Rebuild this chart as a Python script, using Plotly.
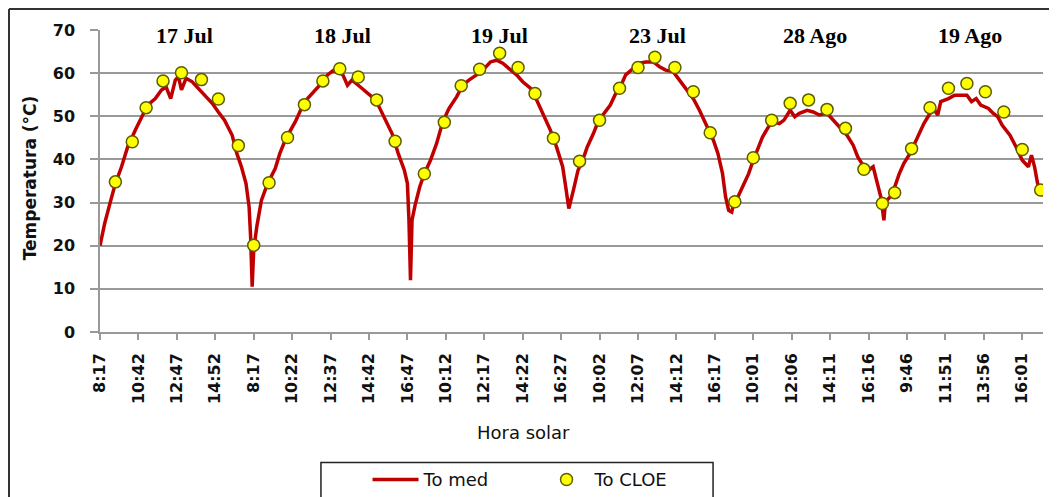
import plotly.graph_objects as go

# ---------------- data ----------------
# sample index (5-minute records, consecutive days joined on one category axis)
tick_labels = ["8:17", "10:42", "12:47", "14:52", "8:17", "10:22", "12:37", "14:42",
               "16:47", "10:12", "12:17", "14:22", "16:27", "10:02", "12:07", "14:12",
               "16:17", "10:01", "12:06", "14:11", "16:16", "9:46", "11:51", "13:56", "16:01"]
tick_step = 25  # labels every 25 records

day_labels = ["17 Jul", "18 Jul", "19 Jul", "23 Jul", "28 Ago", "19 Ago"]
day_label_pos = [55, 158, 260, 363, 465, 566]

# measured temperature (To med)
med_idx = [0, 3, 7, 10, 14, 18, 23, 27, 31, 36, 40, 43, 46, 49, 51, 53, 56, 60, 64, 68,
           73, 77, 81, 86, 89, 92, 95, 97, 98, 99,
           100, 102, 105, 109, 114, 117, 121, 127, 131, 135, 140, 144, 148, 152, 155, 158,
           161, 164, 168, 172, 177, 181, 185, 190, 194, 198, 200, 201, 202,
           203, 205, 208, 211, 215, 219, 223, 227, 232, 236, 240, 245, 249, 254, 258, 262,
           267, 271, 275, 280, 284, 288, 293, 297, 301, 303, 305,
           308, 311, 314, 317, 321, 324, 328, 332, 335, 339, 342, 347, 351, 355, 360, 364,
           368, 373, 377, 381, 386, 390, 394, 399, 402, 405, 407, 409, 411,
           412, 415, 418, 422, 425, 428, 431, 435, 438, 442, 445, 449, 452, 455, 460, 464,
           468, 473, 477, 481, 486, 490, 493, 497, 500, 503, 505, 508, 510,
           511, 514, 517, 520, 523, 527, 530, 533, 536, 540, 543, 545, 547, 552, 556, 560,
           564, 567, 570, 573, 578, 581, 584, 587, 592, 596, 600, 604, 606, 608, 610, 612]
med_val = [20.0, 25.1, 30.5, 34.4, 38.3, 42.9, 46.8, 49.9, 52.6, 54.1, 56.1, 56.8, 54.1, 58.4,
           59.2, 56.1, 58.8, 58.0, 56.5, 54.9, 53.0, 51.0, 49.1, 45.6, 41.4, 38.3, 34.4, 29.0,
           22.0, 10.5,
           19.0, 24.4, 30.5, 34.4, 37.9, 41.4, 44.9, 48.7, 51.8, 54.1, 56.1, 57.6, 59.6, 60.7,
           60.3, 59.6, 57.2, 58.4, 57.2, 56.1, 54.5, 52.6, 49.5, 46.0, 41.4, 37.5, 34.4, 25.9,
           12.0,
           25.9, 29.4, 33.6, 36.7, 39.8, 43.7, 48.7, 51.8, 54.5, 57.2, 58.4, 59.6, 60.7, 62.6,
           63.0, 62.3, 60.7, 59.6, 58.0, 56.5, 53.8, 50.7, 46.8, 42.9, 38.3, 33.6, 28.6,
           32.9, 37.5, 39.8, 42.9, 46.0, 48.7, 50.7, 52.6, 54.9, 57.2, 59.6, 61.1, 62.3, 62.6,
           62.6, 61.5, 60.7, 60.3, 58.4, 56.5, 54.1, 51.4, 48.3, 44.5, 41.4, 36.7, 31.3, 28.2,
           27.8,
           29.4, 31.3, 33.6, 36.7, 39.8, 42.5, 45.2, 47.6, 48.7, 48.3, 49.1, 51.4, 49.9, 50.7,
           51.4, 51.0, 50.3, 50.7, 49.1, 47.6, 45.6, 43.3, 40.6, 38.3, 37.5, 38.3, 35.2, 31.3,
           25.9,
           30.2, 31.3, 33.6, 36.7, 39.1, 41.4, 43.7, 46.0, 48.3, 50.7, 51.4, 50.3, 53.4, 54.1,
           54.9, 54.9, 54.9, 53.4, 54.1, 52.6, 51.8, 50.7, 49.9, 47.9, 45.6, 42.9, 39.8, 38.3,
           41.0, 38.3, 34.4, 32.9]

# model temperature (To CLOE), hourly
cloe_idx = [10, 21, 30, 41, 53, 66, 77, 90, 100,
            110, 122, 133, 145, 156, 168, 180, 192,
            211, 224, 235, 247, 260, 272, 283, 295,
            312, 325, 338, 350, 361, 374, 386, 397, 413,
            425, 437, 449, 461, 473, 485, 497, 509,
            517, 528, 540, 552, 564, 576, 588, 600, 612]
cloe_val = [34.8, 44.1, 52.0, 58.2, 60.1, 58.5, 54.0, 43.2, 20.1,
            34.6, 45.1, 52.7, 58.2, 61.0, 59.1, 53.8, 44.2,
            36.7, 48.6, 57.1, 60.9, 64.6, 61.3, 55.3, 44.9,
            39.6, 49.1, 56.5, 61.3, 63.7, 61.3, 55.7, 46.2, 30.2,
            40.4, 49.1, 53.0, 53.8, 51.6, 47.2, 37.7, 29.8,
            32.3, 42.5, 52.0, 56.5, 57.6, 55.7, 51.0, 42.3, 32.9]

y_ticks = [0, 10, 20, 30, 40, 50, 60, 70]

# ---------------- figure ----------------
fig = go.Figure()
fig.add_trace(go.Scatter(
    x=med_idx, y=med_val, mode="lines", name="To med",
    line=dict(color="#C00000", width=3.5),
))
fig.add_trace(go.Scatter(
    x=cloe_idx, y=cloe_val, mode="markers", name="To CLOE",
    marker=dict(color="#FFFF00", size=12, line=dict(color="#5c5c00", width=1.5)),
))

fig.update_xaxes(
    range=[0, 613.5],
    tickmode="array",
    tickvals=[i * tick_step for i in range(len(tick_labels))],
    ticktext=tick_labels,
    tickangle=-90,
    tickfont=dict(family="DejaVu Sans", size=16, color="#111", weight="bold"),
    ticks="outside", ticklen=6, tickcolor="#999", tickwidth=1.5,
    showline=True, linecolor="#999", linewidth=1.5,
    showgrid=False, zeroline=False,
    ticklabelstandoff=7, automargin=False,
)
fig.update_yaxes(
    range=[0, 70],
    tickvals=y_ticks,
    tickfont=dict(family="DejaVu Sans", size=16, color="#111", weight="bold"),
    ticks="outside", ticklen=8, tickcolor="#999", tickwidth=1.5,
    showline=True, linecolor="#999", linewidth=1.5,
    showgrid=True, gridcolor="#999", gridwidth=1.5,
    zeroline=False,
    ticklabelstandoff=12, automargin=False,
)

annotations = []
for lab, pos in zip(day_labels, day_label_pos):
    annotations.append(dict(
        x=pos, y=68.8, xref="x", yref="y", text=lab, showarrow=False,
        font=dict(family="Liberation Serif", size=22, color="#000", weight="bold"),
        xanchor="center", yanchor="middle",
    ))
annotations.append(dict(
    x=-0.0742, y=0.509, xref="paper", yref="paper", text="Temperatura (°C)",
    textangle=-90, showarrow=False,
    font=dict(family="DejaVu Sans", size=17, color="#111", weight="bold"),
    xanchor="center", yanchor="middle",
))
annotations.append(dict(
    x=0.4486, y=-0.3325, xref="paper", yref="paper", text="Hora solar",
    showarrow=False, font=dict(family="DejaVu Sans", size=18, color="#111"),
    xanchor="center", yanchor="middle",
))

shapes = [
    # outer chart frame (top and left edges)
    dict(type="line", xref="paper", yref="paper", x0=-0.0965, x1=1.03, y0=1.0696, y1=1.0696,
         line=dict(color="#333", width=2)),
    dict(type="line", xref="paper", yref="paper", x0=-0.0965, x1=-0.0965, y0=1.0696, y1=-0.6,
         line=dict(color="#333", width=2)),
    # legend frame
    dict(type="rect", xref="paper", yref="paper", x0=0.2343, x1=0.6501, y0=-0.4320, y1=-0.5540,
         line=dict(color="#222", width=1.5)),
]

# page has an 8px body margin, so the figure is sized to fit the 1057x497 window
fig.update_layout(
    width=1049, height=489,
    margin=dict(l=92, r=14, t=22, b=165.3, autoexpand=False),
    paper_bgcolor="white", plot_bgcolor="white",
    annotations=annotations, shapes=shapes,
    showlegend=True,
    legend=dict(
        orientation="h", x=0.2837, y=-0.428, xanchor="left", yanchor="top",
        font=dict(family="DejaVu Sans", size=18, color="#111"),
        itemwidth=46, entrywidth=110,
        bgcolor="rgba(0,0,0,0)",
    ),
)

fig.write_html("out.html")
